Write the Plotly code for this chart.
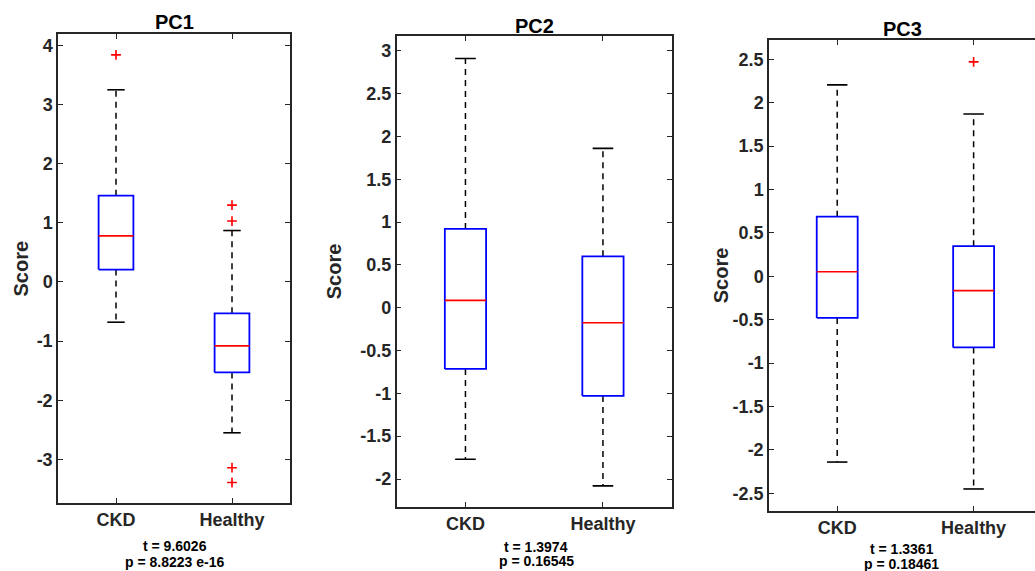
import plotly.graph_objects as go

# Groups compared in each panel
groups = ["CKD", "Healthy"]
panel_titles = ["PC1", "PC2", "PC3"]

# Box-plot summary statistics per principal component (CKD, Healthy)
pc1_lower = [-0.68, -2.55]
pc1_q1 = [0.21, -1.53]
pc1_median = [0.78, -1.08]
pc1_q3 = [1.46, -0.53]
pc1_upper = [3.25, 0.87]
pc1_outliers = [[3.84], [1.30, 1.03, -3.14, -3.39]]

pc2_lower = [-1.77, -2.08]
pc2_q1 = [-0.715, -1.03]
pc2_median = [0.085, -0.175]
pc2_q3 = [0.92, 0.60]
pc2_upper = [2.91, 1.86]
pc2_outliers = [[], []]

pc3_lower = [-2.14, -2.45]
pc3_q1 = [-0.48, -0.82]
pc3_median = [0.053, -0.165]
pc3_q3 = [0.687, 0.347]
pc3_upper = [2.205, 1.87]
pc3_outliers = [[], [2.47]]

# Two-sample t-test results printed under each panel
t_stats = ["9.6026", "1.3974", "1.3361"]
p_values = ["8.8223 e-16", "0.16545", "0.18461"]

# Y tick values / labels
pc1_tickvals = [-3, -2, -1, 0, 1, 2, 3, 4]
pc1_ticktext = ["-3", "-2", "-1", "0", "1", "2", "3", "4"]
pc2_tickvals = [-2, -1.5, -1, -0.5, 0, 0.5, 1, 1.5, 2, 2.5, 3]
pc2_ticktext = ["-2", "-1.5", "-1", "-0.5", "0", "0.5", "1", "1.5", "2", "2.5", "3"]
pc3_tickvals = [-2.5, -2, -1.5, -1, -0.5, 0, 0.5, 1, 1.5, 2, 2.5]
pc3_ticktext = ["-2.5", "-2", "-1.5", "-1", "-0.5", "0", "0.5", "1", "1.5", "2", "2.5"]

W, H = 1035, 571
FONT = "Liberation Sans, Arial, sans-serif"
AX_COLOR = "#262626"
BOX_HALF = 0.15
CAP_HALF = 0.075

panels = [
    dict(lower=pc1_lower, q1=pc1_q1, med=pc1_median, q3=pc1_q3, upper=pc1_upper,
         out=pc1_outliers, tv=pc1_tickvals, tt=pc1_ticktext),
    dict(lower=pc2_lower, q1=pc2_q1, med=pc2_median, q3=pc2_q3, upper=pc2_upper,
         out=pc2_outliers, tv=pc2_tickvals, tt=pc2_ticktext),
    dict(lower=pc3_lower, q1=pc3_q1, med=pc3_median, q3=pc3_q3, upper=pc3_upper,
         out=pc3_outliers, tv=pc3_tickvals, tt=pc3_ticktext),
]

# Pixel layout of each axes box: (left, right, top, bottom), x range, y range
frames = [
    dict(px=(58, 290, 34, 503), xr=[0.5, 2.5], yr=[-3.737, 4.193]),
    dict(px=(396.7, 671.7, 36, 506.5), xr=[0.5, 2.5], yr=[-2.321, 3.172]),
    dict(px=(769, 1035, 40, 510.5), xr=[0.5, 2.45], yr=[-2.698, 2.722]),
]

# Text placement (pixels): title centre y, y-label centre x, stats centre x, t y, p y
text_pos = [
    dict(title_y=22, ylab_x=20, stat_x=174.5, t_y=545.7, p_y=562.3),
    dict(title_y=26, ylab_x=334, stat_x=536, t_y=547, p_y=560.5),
    dict(title_y=29, ylab_x=721, stat_x=901.7, t_y=549, p_y=563.5),
]

fig = go.Figure()
annotations = []
layout = {}

for i, (p, fr, tp) in enumerate(zip(panels, frames, text_pos)):
    n = "" if i == 0 else str(i + 1)
    xa, ya = "x" + n, "y" + n
    for g in range(len(groups)):
        c = g + 1
        # whiskers (dashed)
        fig.add_trace(go.Scatter(
            x=[c, c, None, c, c],
            y=[p["q3"][g], p["upper"][g], None, p["q1"][g], p["lower"][g]],
            mode="lines", line=dict(color="black", width=1.5, dash="6px,5px"),
            xaxis=xa, yaxis=ya, showlegend=False, hoverinfo="skip"))
        # caps
        fig.add_trace(go.Scatter(
            x=[c - CAP_HALF, c + CAP_HALF, None, c - CAP_HALF, c + CAP_HALF],
            y=[p["upper"][g], p["upper"][g], None, p["lower"][g], p["lower"][g]],
            mode="lines", line=dict(color="black", width=1.6),
            xaxis=xa, yaxis=ya, showlegend=False, hoverinfo="skip"))
        # box
        fig.add_trace(go.Scatter(
            x=[c - BOX_HALF, c + BOX_HALF, c + BOX_HALF, c - BOX_HALF, c - BOX_HALF],
            y=[p["q1"][g], p["q1"][g], p["q3"][g], p["q3"][g], p["q1"][g]],
            mode="lines", line=dict(color="#0000ff", width=1.8),
            xaxis=xa, yaxis=ya, showlegend=False, hoverinfo="skip"))
        # median
        fig.add_trace(go.Scatter(
            x=[c - BOX_HALF, c + BOX_HALF],
            y=[p["med"][g], p["med"][g]],
            mode="lines", line=dict(color="#ff0000", width=1.6),
            xaxis=xa, yaxis=ya, showlegend=False, hoverinfo="skip"))
        # outliers
        if p["out"][g]:
            fig.add_trace(go.Scatter(
                x=[c] * len(p["out"][g]), y=p["out"][g], mode="markers",
                marker=dict(symbol="cross-thin", size=7,
                            line=dict(color="#ff0000", width=1.6)),
                xaxis=xa, yaxis=ya, showlegend=False, hoverinfo="skip"))

    left, right, top, bottom = fr["px"]
    layout["xaxis" + n] = dict(
        domain=[left / W, right / W], range=fr["xr"], anchor=ya,
        tickvals=[1, 2], ticktext=groups,
        showline=True, linecolor=AX_COLOR, linewidth=1.5, mirror="ticks",
        ticks="inside", ticklen=5, tickwidth=1.2, tickcolor=AX_COLOR,
        tickfont=dict(family=FONT, size=18, color=AX_COLOR, weight="bold"),
        showgrid=False, zeroline=False, fixedrange=True)
    layout["yaxis" + n] = dict(
        domain=[1 - bottom / H, 1 - top / H], range=fr["yr"], anchor=xa,
        tickvals=p["tv"], ticktext=p["tt"],
        showline=True, linecolor=AX_COLOR, linewidth=1.5,
        mirror="ticks" if i < 2 else False,
        ticks="inside", ticklen=5, tickwidth=1.2, tickcolor=AX_COLOR,
        tickfont=dict(family=FONT, size=18, color=AX_COLOR, weight="bold"),
        showgrid=False, zeroline=False, fixedrange=True)

    cx = (left + min(right, left + (2.5 - 0.5) * (right - left) / (fr["xr"][1] - fr["xr"][0]))) / 2
    annotations.append(dict(
        text="<b>" + panel_titles[i] + "</b>", x=cx / W, y=1 - tp["title_y"] / H,
        xref="paper", yref="paper", xanchor="center", yanchor="middle",
        showarrow=False, font=dict(family=FONT, size=20, color="black")))
    annotations.append(dict(
        text="<b>Score</b>", x=tp["ylab_x"] / W, y=1 - (top + bottom) / 2 / H,
        xref="paper", yref="paper", xanchor="center", yanchor="middle",
        textangle=-90, showarrow=False,
        font=dict(family=FONT, size=20, color=AX_COLOR)))
    annotations.append(dict(
        text="<b>t = " + t_stats[i] + "</b>", x=tp["stat_x"] / W, y=1 - tp["t_y"] / H,
        xref="paper", yref="paper", xanchor="center", yanchor="middle",
        showarrow=False, font=dict(family=FONT, size=14, color="black")))
    annotations.append(dict(
        text="<b>p = " + p_values[i] + "</b>", x=tp["stat_x"] / W, y=1 - tp["p_y"] / H,
        xref="paper", yref="paper", xanchor="center", yanchor="middle",
        showarrow=False, font=dict(family=FONT, size=14, color="black")))

fig.update_layout(
    width=W, height=H,
    margin=dict(l=0, r=0, t=0, b=0),
    paper_bgcolor="white", plot_bgcolor="white",
    showlegend=False,
    annotations=annotations,
    **layout)

fig.write_html("out.html", config={"displayModeBar": False})
